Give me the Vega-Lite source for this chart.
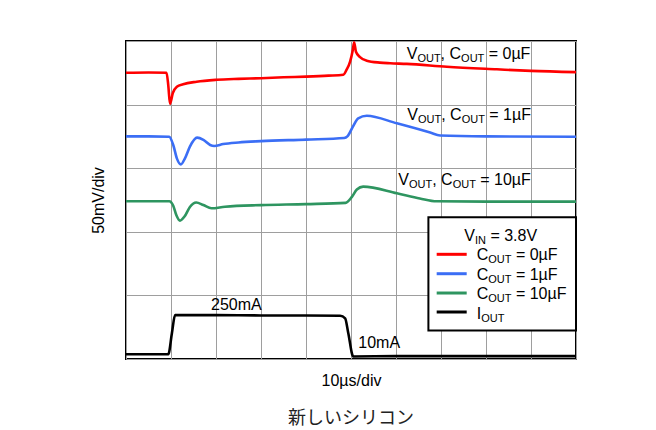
{
  "$schema": "https://vega.github.io/schema/vega-lite/v6.json",
  "width": 450,
  "height": 318,
  "autosize": {"type": "none"},
  "padding": {"left": 126, "top": 41, "right": 80, "bottom": 71},
  "background": "white",
  "title": {"text": "新しいシリコン", "orient": "bottom", "font": "Noto Sans CJK JP", "fontSize": 18, "fontWeight": "normal", "color": "#222222", "offset": 22},
  "config": {
    "view": {"stroke": "black", "strokeWidth": 2},
    "axis": {"labels": false, "ticks": false, "domain": false, "grid": true, "gridColor": "#9e9e9e", "gridWidth": 1, "gridOpacity": 1, "titleFont": "Liberation Sans", "titleFontSize": 16, "titleFontWeight": "normal", "titleColor": "black"},
    "text": {"font": "Liberation Sans", "color": "black"}
  },
  "datasets": {
    "traces": [
      {"s": "c0", "x": 0, "y": 9.0}, {"s": "c0", "x": 0.5, "y": 9.01}, {"s": "c0", "x": 0.9, "y": 9.0}, {"s": "c0", "x": 0.94, "y": 8.6}, {"s": "c0", "x": 0.978, "y": 8.02}, {"s": "c0", "x": 1.04, "y": 8.36}, {"s": "c0", "x": 1.13, "y": 8.56}, {"s": "c0", "x": 1.27, "y": 8.64}, {"s": "c0", "x": 1.57, "y": 8.72}, {"s": "c0", "x": 2.01, "y": 8.78}, {"s": "c0", "x": 2.5, "y": 8.81}, {"s": "c0", "x": 3.0, "y": 8.83}, {"s": "c0", "x": 3.5, "y": 8.86}, {"s": "c0", "x": 4.0, "y": 8.88}, {"s": "c0", "x": 4.5, "y": 8.91}, {"s": "c0", "x": 4.83, "y": 8.94}, {"s": "c0", "x": 4.9, "y": 9.09}, {"s": "c0", "x": 4.98, "y": 9.35}, {"s": "c0", "x": 5.04, "y": 9.72}, {"s": "c0", "x": 5.07, "y": 9.96}, {"s": "c0", "x": 5.11, "y": 9.66}, {"s": "c0", "x": 5.2, "y": 9.49}, {"s": "c0", "x": 5.35, "y": 9.38}, {"s": "c0", "x": 5.64, "y": 9.32}, {"s": "c0", "x": 5.87, "y": 9.3}, {"s": "c0", "x": 6.24, "y": 9.28}, {"s": "c0", "x": 7.13, "y": 9.19}, {"s": "c0", "x": 8.24, "y": 9.11}, {"s": "c0", "x": 9.0, "y": 9.06}, {"s": "c0", "x": 10, "y": 9.02},
      {"s": "c1", "x": 0, "y": 7.0}, {"s": "c1", "x": 0.5, "y": 7.0}, {"s": "c1", "x": 0.96, "y": 6.99}, {"s": "c1", "x": 1.05, "y": 6.73}, {"s": "c1", "x": 1.13, "y": 6.31}, {"s": "c1", "x": 1.22, "y": 6.12}, {"s": "c1", "x": 1.31, "y": 6.31}, {"s": "c1", "x": 1.42, "y": 6.68}, {"s": "c1", "x": 1.58, "y": 6.96}, {"s": "c1", "x": 1.72, "y": 6.89}, {"s": "c1", "x": 1.87, "y": 6.73}, {"s": "c1", "x": 1.96, "y": 6.7}, {"s": "c1", "x": 2.16, "y": 6.76}, {"s": "c1", "x": 2.5, "y": 6.81}, {"s": "c1", "x": 3.0, "y": 6.85}, {"s": "c1", "x": 4.0, "y": 6.9}, {"s": "c1", "x": 4.85, "y": 6.95}, {"s": "c1", "x": 4.92, "y": 7.0}, {"s": "c1", "x": 5.04, "y": 7.3}, {"s": "c1", "x": 5.16, "y": 7.57}, {"s": "c1", "x": 5.35, "y": 7.65}, {"s": "c1", "x": 6.02, "y": 7.41}, {"s": "c1", "x": 6.76, "y": 7.12}, {"s": "c1", "x": 6.98, "y": 7.03}, {"s": "c1", "x": 8, "y": 7.0}, {"s": "c1", "x": 10, "y": 6.99},
      {"s": "c10", "x": 0, "y": 4.96}, {"s": "c10", "x": 0.96, "y": 4.96}, {"s": "c10", "x": 1.05, "y": 4.82}, {"s": "c10", "x": 1.12, "y": 4.52}, {"s": "c10", "x": 1.2, "y": 4.35}, {"s": "c10", "x": 1.3, "y": 4.48}, {"s": "c10", "x": 1.42, "y": 4.78}, {"s": "c10", "x": 1.56, "y": 4.92}, {"s": "c10", "x": 1.72, "y": 4.84}, {"s": "c10", "x": 1.9, "y": 4.74}, {"s": "c10", "x": 2.2, "y": 4.79}, {"s": "c10", "x": 3.0, "y": 4.84}, {"s": "c10", "x": 4.0, "y": 4.87}, {"s": "c10", "x": 4.88, "y": 4.91}, {"s": "c10", "x": 5.02, "y": 5.1}, {"s": "c10", "x": 5.13, "y": 5.33}, {"s": "c10", "x": 5.27, "y": 5.42}, {"s": "c10", "x": 6.02, "y": 5.21}, {"s": "c10", "x": 6.53, "y": 5.05}, {"s": "c10", "x": 6.9, "y": 4.96}, {"s": "c10", "x": 8, "y": 4.95}, {"s": "c10", "x": 10, "y": 4.95},
      {"s": "iout", "x": 0, "y": 0.15}, {"s": "iout", "x": 0.5, "y": 0.15}, {"s": "iout", "x": 0.94, "y": 0.15}, {"s": "iout", "x": 1.02, "y": 0.81}, {"s": "iout", "x": 1.09, "y": 1.38}, {"s": "iout", "x": 2, "y": 1.38}, {"s": "iout", "x": 3, "y": 1.37}, {"s": "iout", "x": 4, "y": 1.37}, {"s": "iout", "x": 4.76, "y": 1.36}, {"s": "iout", "x": 4.87, "y": 1.28}, {"s": "iout", "x": 4.94, "y": 0.81}, {"s": "iout", "x": 5.05, "y": 0.08}, {"s": "iout", "x": 6, "y": 0.09}, {"s": "iout", "x": 8, "y": 0.09}, {"s": "iout", "x": 10, "y": 0.09}
    ],
    "legendbox": [{"x": 6.72, "x2": 10, "y": 4.46, "y2": 0.9}],
    "legendlines": [
      {"s": "c0", "x": 6.904, "x2": 7.571, "y": 3.292},
      {"s": "c1", "x": 6.904, "x2": 7.571, "y": 2.682},
      {"s": "c10", "x": 6.904, "x2": 7.571, "y": 2.075},
      {"s": "iout", "x": 6.904, "x2": 7.571, "y": 1.478}
    ],
    "maintext": [
      {"x": 6.238, "y": 9.425, "t": "V"}, {"x": 6.991, "y": 9.425, "t": ", C"}, {"x": 8.06, "y": 9.425, "t": "= 0µF"},
      {"x": 6.251, "y": 7.516, "t": "V"}, {"x": 7.004, "y": 7.516, "t": ", C"}, {"x": 8.073, "y": 7.516, "t": "= 1µF"},
      {"x": 6.051, "y": 5.472, "t": "V"}, {"x": 6.804, "y": 5.472, "t": ", C"}, {"x": 7.873, "y": 5.472, "t": "= 10µF"},
      {"x": 7.518, "y": 3.701, "t": "V"}, {"x": 8.098, "y": 3.701, "t": "= 3.8V"},
      {"x": 7.793, "y": 3.104, "t": "C"}, {"x": 8.665, "y": 3.104, "t": "= 0µF"},
      {"x": 7.793, "y": 2.494, "t": "C"}, {"x": 8.665, "y": 2.494, "t": "= 1µF"},
      {"x": 7.793, "y": 1.877, "t": "C"}, {"x": 8.665, "y": 1.877, "t": "= 10µF"},
      {"x": 7.793, "y": 1.267, "t": "I"},
      {"x": 1.889, "y": 1.541, "t": "250mA"},
      {"x": 5.162, "y": 0.336, "t": "10mA"}
    ],
    "subtext": [
      {"x": 6.475, "y": 9.425, "t": "OUT"}, {"x": 7.446, "y": 9.425, "t": "OUT"},
      {"x": 6.488, "y": 7.516, "t": "OUT"}, {"x": 7.459, "y": 7.516, "t": "OUT"},
      {"x": 6.288, "y": 5.472, "t": "OUT"}, {"x": 7.259, "y": 5.472, "t": "OUT"},
      {"x": 7.755, "y": 3.701, "t": "IN"},
      {"x": 8.05, "y": 3.104, "t": "OUT"},
      {"x": 8.05, "y": 2.494, "t": "OUT"},
      {"x": 8.05, "y": 1.877, "t": "OUT"},
      {"x": 7.892, "y": 1.267, "t": "OUT"}
    ]
  },
  "layer": [
    {
      "data": {"name": "traces"},
      "mark": {"type": "line", "strokeWidth": 2.6, "interpolate": "monotone"},
      "encoding": {
        "x": {"field": "x", "type": "quantitative", "scale": {"domain": [0, 10], "nice": false, "zero": false}, "axis": {"title": "10µs/div", "values": [0,1,2,3,4,5,6,7,8,9,10], "titlePadding": 13}},
        "y": {"field": "y", "type": "quantitative", "scale": {"domain": [0, 10], "nice": false, "zero": false}, "axis": {"title": "50mV/div", "values": [0,1,2,3,4,5,6,7,8,9,10], "titlePadding": 20}},
        "color": {"field": "s", "type": "nominal", "scale": {"domain": ["c0", "c1", "c10", "iout"], "range": ["#ff0000", "#3b6ef5", "#2e9560", "#000000"]}, "legend": null}
      }
    },
    {
      "data": {"name": "legendbox"},
      "mark": {"type": "rect", "fill": "white", "stroke": "black", "strokeWidth": 2},
      "encoding": {
        "x": {"field": "x", "type": "quantitative"},
        "x2": {"field": "x2"},
        "y": {"field": "y", "type": "quantitative"},
        "y2": {"field": "y2"}
      }
    },
    {
      "data": {"name": "legendlines"},
      "mark": {"type": "rule", "strokeWidth": 3},
      "encoding": {
        "x": {"field": "x", "type": "quantitative"},
        "x2": {"field": "x2"},
        "y": {"field": "y", "type": "quantitative"},
        "color": {"field": "s", "type": "nominal", "legend": null}
      }
    },
    {
      "data": {"name": "maintext"},
      "mark": {"type": "text", "fontSize": 16, "align": "left", "baseline": "alphabetic"},
      "encoding": {
        "x": {"field": "x", "type": "quantitative"},
        "y": {"field": "y", "type": "quantitative"},
        "text": {"field": "t"}
      }
    },
    {
      "data": {"name": "subtext"},
      "mark": {"type": "text", "fontSize": 11, "align": "left", "baseline": "alphabetic", "dy": 3},
      "encoding": {
        "x": {"field": "x", "type": "quantitative"},
        "y": {"field": "y", "type": "quantitative"},
        "text": {"field": "t"}
      }
    }
  ]
}
